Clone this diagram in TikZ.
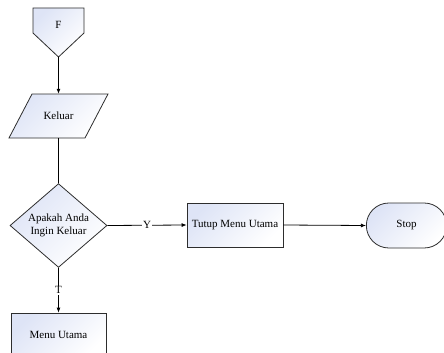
\documentclass[tikz,border=0pt]{standalone}
\usepackage{fontspec}
\setmainfont{Liberation Serif}
\usetikzlibrary{shapes.geometric,shapes.misc,arrows.meta}
\definecolor{shadeblue}{RGB}{222,228,246}
\definecolor{edgegray}{RGB}{45,45,45}
\begin{document}
\begin{tikzpicture}[x=1pt,y=-1pt,
  font=\fontsize{11}{13}\selectfont,
  shapeline/.style={draw=edgegray, line width=0.8pt},
  shapefill/.style={top color=shadeblue, bottom color=white, shading angle=45},
  flow/.style={draw=black, line width=0.8pt, -{Latex[length=5pt,width=4pt]}},
  plain/.style={draw=black, line width=0.8pt},
  boxnode/.style={shapeline, shapefill, rectangle, minimum width=96pt, minimum height=44pt, inner sep=2pt},
  lbl/.style={fill=white, inner sep=1pt}]
\useasboundingbox (0,0) rectangle (444,353);

% off-page connector
\path[shapeline, shapefill] (33,8) -- (84,8) -- (84,33) -- (58.5,57) -- (33,33) -- cycle;
\node (F) at (58.5,25) {F};
\coordinate (Fbot) at (58.5,57);

% input/output parallelogram
\path[shapeline, shapefill] (32,94) -- (108,94) -- (85,138) -- (9,138) -- cycle;
\node[minimum width=99pt, minimum height=44pt, inner sep=0pt] (keluar) at (58.5,116) {Keluar};

% decision
\node[diamond, shapeline, shapefill, minimum width=97pt, minimum height=81pt,
      inner sep=0pt, align=center] (tanya) at (58.5,225.5) {Apakah Anda\\Ingin Keluar};

% processes and terminator
\node[boxnode] (tutup) at (235,225) {Tutup Menu Utama};
\node[rounded rectangle, shapeline, shapefill, minimum width=87pt, minimum height=45pt] (stop) at (406.5,225.5) {Stop};
\node[boxnode, minimum width=95pt] (menu) at (58.5,335) {Menu Utama};

% connectors
\draw[flow] (Fbot) -- (keluar.north);
\draw[plain] (keluar.south) -- (tanya.north);
\draw[flow] (tanya.east) -- node[lbl]{Y} (tutup.west);
\draw[flow] (tutup.east) -- (stop.west);
\draw[flow] (tanya.south) -- node[lbl]{T} (menu.north);
\end{tikzpicture}
\end{document}
